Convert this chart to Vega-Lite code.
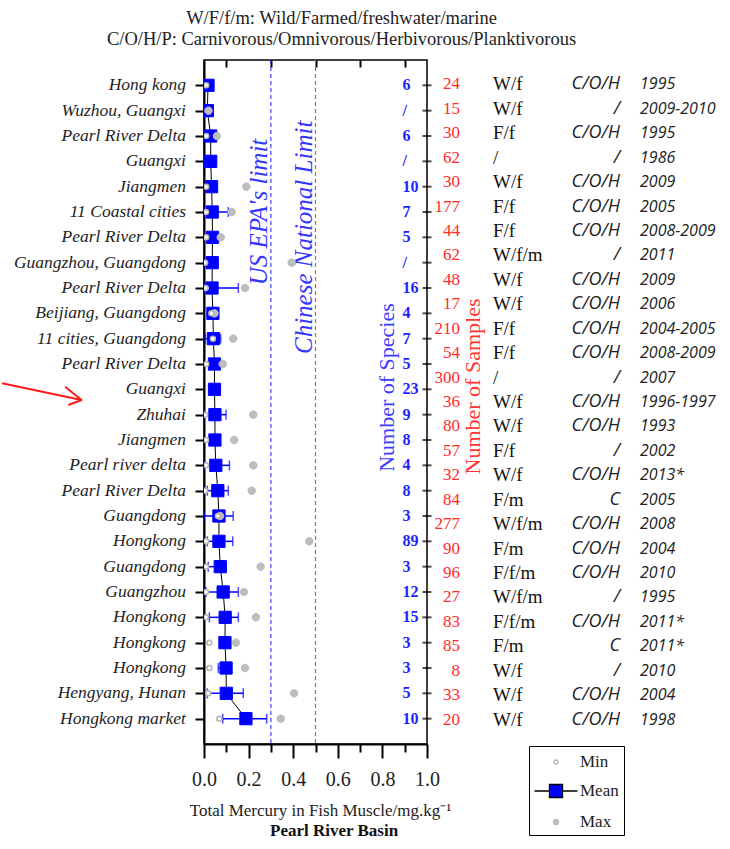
{
  "$schema": "https://vega.github.io/schema/vega-lite/v6.json",
  "padding": {"left": 0, "top": 7, "right": 0, "bottom": 0},
  "background": "white",
  "config": {"view": {"stroke": null}, "axis": {"grid": false}, "font": "Liberation Serif"},
  "spacing": 0,
  "bounds": "flush",
  "resolve": {"scale": {"x": "independent", "y": "independent"}},
  "datasets": {
    "plot": [
      {"id": 1, "location": "Hong kong", "Min": 0.01, "Mean": 0.018, "Max": null, "lo": null, "hi": null, "species": "6"},
      {"id": 2, "location": "Wuzhou, Guangxi", "Min": null, "Mean": 0.015, "Max": 0.02, "lo": null, "hi": null, "species": "/"},
      {"id": 3, "location": "Pearl River Delta", "Min": 0.01, "Mean": 0.03, "Max": 0.058, "lo": null, "hi": null, "species": "6"},
      {"id": 4, "location": "Guangxi", "Min": null, "Mean": 0.03, "Max": null, "lo": null, "hi": null, "species": "/"},
      {"id": 5, "location": "Jiangmen", "Min": 0.01, "Mean": 0.034, "Max": 0.19, "lo": null, "hi": null, "species": "10"},
      {"id": 6, "location": "11 Coastal cities", "Min": 0.009, "Mean": 0.037, "Max": 0.124, "lo": 0.0, "hi": 0.109, "species": "7"},
      {"id": 7, "location": "Pearl River Delta", "Min": 0.01, "Mean": 0.038, "Max": 0.075, "lo": null, "hi": null, "species": "5"},
      {"id": 8, "location": "Guangzhou, Guangdong", "Min": 0.005, "Mean": 0.037, "Max": 0.393, "lo": null, "hi": null, "species": "/"},
      {"id": 9, "location": "Pearl River Delta", "Min": 0.008, "Mean": 0.036, "Max": 0.184, "lo": 0.0, "hi": 0.154, "species": "16"},
      {"id": 10, "location": "Beijiang, Guangdong", "Min": 0.033, "Mean": 0.04, "Max": 0.047, "lo": null, "hi": null, "species": "4"},
      {"id": 11, "location": "11 cities, Guangdong", "Min": 0.04, "Mean": 0.042, "Max": 0.131, "lo": 0.005, "hi": 0.075, "species": "7"},
      {"id": 12, "location": "Pearl River Delta", "Min": 0.01, "Mean": 0.047, "Max": 0.084, "lo": null, "hi": null, "species": "5"},
      {"id": 13, "location": "Guangxi", "Min": null, "Mean": 0.047, "Max": null, "lo": null, "hi": null, "species": "23"},
      {"id": 14, "location": "Zhuhai", "Min": 0.005, "Mean": 0.049, "Max": 0.221, "lo": 0.0, "hi": 0.099, "species": "9"},
      {"id": 15, "location": "Jiangmen", "Min": 0.009, "Mean": 0.049, "Max": 0.135, "lo": null, "hi": null, "species": "8"},
      {"id": 16, "location": "Pearl river delta", "Min": 0.009, "Mean": 0.053, "Max": 0.221, "lo": 0.0, "hi": 0.114, "species": "4"},
      {"id": 17, "location": "Pearl River Delta", "Min": 0.005, "Mean": 0.062, "Max": 0.214, "lo": 0.015, "hi": 0.109, "species": "8"},
      {"id": 18, "location": "Guangdong", "Min": 0.062, "Mean": 0.067, "Max": 0.072, "lo": 0.0, "hi": 0.131, "species": "3"},
      {"id": 19, "location": "Hongkong", "Min": 0.009, "Mean": 0.067, "Max": 0.472, "lo": 0.015, "hi": 0.129, "species": "89"},
      {"id": 20, "location": "Guangdong", "Min": 0.009, "Mean": 0.073, "Max": 0.254, "lo": 0.019, "hi": 0.073, "species": "3"},
      {"id": 21, "location": "Guangzhou", "Min": 0.009, "Mean": 0.086, "Max": 0.179, "lo": 0.009, "hi": 0.154, "species": "12"},
      {"id": 22, "location": "Hongkong", "Min": 0.009, "Mean": 0.095, "Max": 0.233, "lo": 0.024, "hi": 0.154, "species": "15"},
      {"id": 23, "location": "Hongkong", "Min": 0.024, "Mean": 0.094, "Max": 0.143, "lo": null, "hi": null, "species": "3"},
      {"id": 24, "location": "Hongkong", "Min": 0.024, "Mean": 0.099, "Max": 0.184, "lo": 0.064, "hi": 0.099, "species": "3"},
      {"id": 25, "location": "Hengyang, Hunan", "Min": 0.019, "Mean": 0.1, "Max": 0.404, "lo": 0.015, "hi": 0.176, "species": "5"},
      {"id": 26, "location": "Hongkong market", "Min": 0.069, "Mean": 0.188, "Max": 0.344, "lo": 0.084, "hi": 0.281, "species": "10"}
    ],
    "table": [
      {"tid": 1, "samples": "24", "type": "W/f", "feeding": "C/O/H", "year": "1995"},
      {"tid": 2, "samples": "15", "type": "W/f", "feeding": "/", "year": "2009-2010"},
      {"tid": 3, "samples": "30", "type": "F/f", "feeding": "C/O/H", "year": "1995"},
      {"tid": 4, "samples": "62", "type": "/", "feeding": "/", "year": "1986"},
      {"tid": 5, "samples": "30", "type": "W/f", "feeding": "C/O/H", "year": "2009"},
      {"tid": 6, "samples": "177", "type": "F/f", "feeding": "C/O/H", "year": "2005"},
      {"tid": 7, "samples": "44", "type": "F/f", "feeding": "C/O/H", "year": "2008-2009"},
      {"tid": 8, "samples": "62", "type": "W/f/m", "feeding": "/", "year": "2011"},
      {"tid": 9, "samples": "48", "type": "W/f", "feeding": "C/O/H", "year": "2009"},
      {"tid": 10, "samples": "17", "type": "W/f", "feeding": "C/O/H", "year": "2006"},
      {"tid": 11, "samples": "210", "type": "F/f", "feeding": "C/O/H", "year": "2004-2005"},
      {"tid": 12, "samples": "54", "type": "F/f", "feeding": "C/O/H", "year": "2008-2009"},
      {"tid": 13, "samples": "300", "type": "/", "feeding": "/", "year": "2007"},
      {"tid": 14, "samples": "36", "type": "W/f", "feeding": "C/O/H", "year": "1996-1997"},
      {"tid": 15, "samples": "80", "type": "W/f", "feeding": "C/O/H", "year": "1993"},
      {"tid": 16, "samples": "57", "type": "F/f", "feeding": "/", "year": "2002"},
      {"tid": 17, "samples": "32", "type": "W/f", "feeding": "C/O/H", "year": "2013*"},
      {"tid": 18, "samples": "84", "type": "F/m", "feeding": "C", "year": "2005"},
      {"tid": 19, "samples": "277", "type": "W/f/m", "feeding": "C/O/H", "year": "2008"},
      {"tid": 20, "samples": "90", "type": "F/m", "feeding": "C/O/H", "year": "2004"},
      {"tid": 21, "samples": "96", "type": "F/f/m", "feeding": "C/O/H", "year": "2010"},
      {"tid": 22, "samples": "27", "type": "W/f/m", "feeding": "/", "year": "1995"},
      {"tid": 23, "samples": "83", "type": "F/f/m", "feeding": "C/O/H", "year": "2011*"},
      {"tid": 24, "samples": "85", "type": "F/m", "feeding": "C", "year": "2011*"},
      {"tid": 25, "samples": "8", "type": "W/f", "feeding": "/", "year": "2010"},
      {"tid": 26, "samples": "33", "type": "W/f", "feeding": "C/O/H", "year": "2004"},
      {"tid": 27, "samples": "20", "type": "W/f", "feeding": "C/O/H", "year": "1998"}
    ],
    "arrow": [
      {"seg": "shaft", "o": 1, "ax": 0.01, "ay": 12.76},
      {"seg": "shaft", "o": 2, "ax": 0.4, "ay": 13.42},
      {"seg": "head", "o": 1, "ax": 0.319, "ay": 12.9},
      {"seg": "head", "o": 2, "ax": 0.4, "ay": 13.42},
      {"seg": "head", "o": 3, "ax": 0.335, "ay": 13.62}
    ],
    "limits": [
      {"label": "US EPA's limit", "tx": 0.2475, "id": 6},
      {"label": "Chinese National Limit", "tx": 0.447, "id": 7}
    ]
  },
  "hconcat": [
    {
      "width": 204,
      "height": 684,
      "title": {"text": "Pearl River Basin", "orient": "bottom", "anchor": "start", "frame": "group", "dx": 270, "offset": 79, "font": "Liberation Serif", "fontSize": 17, "fontWeight": "bold", "color": "#111111"},
      "layer": [
        {
          "data": {"name": "plot"},
          "mark": {"type": "text", "align": "right", "baseline": "middle", "dx": -18, "font": "Liberation Serif", "fontSize": 17.5, "fontStyle": "italic", "color": "#1e1e1e"},
          "encoding": {
            "y": {"field": "id", "type": "ordinal", "scale": {"type": "point", "padding": 1}, "axis": null},
            "x": {"datum": 1, "type": "quantitative", "scale": {"domain": [0, 1]}, "axis": null},
            "text": {"field": "location"}
          }
        },
        {
          "data": {"name": "arrow"},
          "mark": {"type": "line", "color": "#ff1a1a", "strokeWidth": 2, "strokeJoin": "round", "strokeCap": "butt"},
          "encoding": {
            "x": {"field": "ax", "type": "quantitative", "scale": {"domain": [0, 1]}, "axis": null},
            "y": {"field": "ay", "type": "quantitative", "scale": {"domain": [0, 27], "reverse": true, "nice": false}, "axis": null},
            "detail": {"field": "seg"},
            "order": {"field": "o", "type": "quantitative"}
          }
        }
      ],
      "resolve": {"scale": {"y": "independent"}}
    },
    {
      "width": 223,
      "height": 684,
      "data": {"name": "plot"},
      "view": {"stroke": "black", "strokeWidth": 1.5},
      "layer": [
        {
          "data": {"values": [{}]},
          "mark": {"type": "rule", "color": "#1a1aff", "strokeWidth": 1, "strokeDash": [4, 3]},
          "encoding": {"x": {"datum": 0.3, "type": "quantitative", "axis": null}}
        },
        {
          "data": {"values": [{}]},
          "mark": {"type": "rule", "color": "#e85050", "strokeWidth": 1.2, "strokeDash": [4, 3]},
          "encoding": {"x": {"datum": 0.5, "type": "quantitative", "axis": null}}
        },
        {
          "data": {"name": "limits"},
          "mark": {"type": "text", "angle": 270, "align": "center", "baseline": "middle", "font": "Liberation Serif", "fontStyle": "italic", "fontSize": 25, "color": "#3434ff"},
          "encoding": {
            "x": {"field": "tx", "type": "quantitative", "axis": null},
            "y": {"field": "id", "type": "ordinal", "axis": null},
            "text": {"field": "label"}
          }
        },
        {
          "mark": {"type": "line", "color": "black", "strokeWidth": 1},
          "encoding": {
            "x": {"field": "Mean", "type": "quantitative", "scale": {"domain": [0, 1]},
              "axis": {"orient": "bottom", "values": [0, 0.2, 0.4, 0.6, 0.8, 1], "format": ".1f", "tickSize": 14, "tickWidth": 2, "tickColor": "black", "domainColor": "black", "domainWidth": 2, "labelFont": "Liberation Serif", "labelFontSize": 20, "labelColor": "#222222", "labelPadding": 11, "labelFlush": false, "title": "Total Mercury in Fish Muscle/mg.kg⁻¹", "titleFont": "Liberation Serif", "titleFontSize": 17, "titleFontWeight": "normal", "titleColor": "#222222", "titleX": 116, "titleY": 71, "titleBaseline": "alphabetic", "titleAlign": "center"}},
            "y": {"field": "id", "type": "ordinal", "scale": {"type": "point", "padding": 1},
              "axis": {"orient": "left", "labels": false, "tickSize": 9, "tickWidth": 2, "tickColor": "black", "domainColor": "black", "domainWidth": 2, "title": null}},
            "order": {"field": "id", "type": "quantitative"}
          }
        },
        {
          "transform": [{"filter": "datum.lo != null"}],
          "mark": {"type": "rule", "color": "#0000ff", "strokeWidth": 1.5, "clip": true},
          "encoding": {
            "x": {"field": "lo", "type": "quantitative",
              "axis": {"orient": "bottom", "values": [0.1, 0.3, 0.5, 0.7, 0.9], "tickSize": 8, "tickWidth": 2, "tickColor": "black", "labels": false, "domain": false, "title": null}},
            "x2": {"field": "hi"},
            "y": {"field": "id", "type": "ordinal", "axis": null}
          }
        },
        {
          "transform": [{"filter": "datum.lo != null"}],
          "mark": {"type": "tick", "color": "#0000ff", "thickness": 1.5, "size": 10, "clip": true},
          "encoding": {
            "x": {"field": "lo", "type": "quantitative", "axis": null},
            "y": {"field": "id", "type": "ordinal", "axis": null}
          }
        },
        {
          "transform": [{"filter": "datum.hi != null"}],
          "mark": {"type": "tick", "color": "#0000ff", "thickness": 1.5, "size": 10, "clip": true},
          "encoding": {
            "x": {"field": "hi", "type": "quantitative", "axis": null},
            "y": {"field": "id", "type": "ordinal", "axis": null}
          }
        },
        {
          "mark": {"type": "point", "shape": "square", "filled": true, "stroke": "#0000ff", "opacity": 1, "size": 150, "strokeWidth": 1, "clip": true},
          "encoding": {
            "x": {"field": "Mean", "type": "quantitative", "axis": null},
            "y": {"field": "id", "type": "ordinal", "axis": null},
            "fill": {"datum": "Mean", "scale": {"domain": ["Min", "Mean", "Max"], "range": ["#ffffff", "#0000ff", "#bdbdbd"]},
              "legend": {"title": null, "orient": "none", "legendX": 529, "legendY": 686, "strokeColor": "black", "fillColor": "white", "padding": 5, "rowPadding": 10, "symbolSize": 400, "symbolOffset": 11, "labelOffset": 13, "labelFont": "Liberation Serif", "labelFontSize": 17, "labelColor": "#222222", "symbolStrokeWidth": 1.3}}
          }
        },
        {
          "transform": [{"filter": "datum.Max != null"}],
          "mark": {"type": "point", "filled": true, "opacity": 1, "size": 832, "strokeWidth": 1, "clip": true},
          "encoding": {
            "x": {"field": "Max", "type": "quantitative", "axis": null},
            "y": {"field": "id", "type": "ordinal", "axis": null},
            "shape": {"datum": "Max", "scale": {"domain": ["Min", "Mean", "Max"], "range": ["M0.2,0A0.2,0.2,0,1,1,-0.2,0A0.2,0.2,0,1,1,0.2,0Z", "M-2.15,0H-0.65M0.65,0H2.15M-0.65,-0.65H0.65V0.65H-0.65Z", "M0.26,0A0.26,0.26,0,1,1,-0.26,0A0.26,0.26,0,1,1,0.26,0Z"]},
              "legend": {"title": null, "orient": "none", "legendX": 529, "legendY": 686, "strokeColor": "black", "fillColor": "white", "padding": 5, "rowPadding": 10, "symbolSize": 400, "symbolOffset": 11, "labelOffset": 13, "labelFont": "Liberation Serif", "labelFontSize": 17, "labelColor": "#222222", "symbolStrokeWidth": 1.3}},
            "fill": {"datum": "Max"},
            "stroke": {"datum": "Max", "scale": {"domain": ["Min", "Mean", "Max"], "range": ["#b4b4b4", "#000000", "#bdbdbd"]},
              "legend": {"title": null, "orient": "none", "legendX": 529, "legendY": 686, "strokeColor": "black", "fillColor": "white", "padding": 5, "rowPadding": 10, "symbolSize": 400, "symbolOffset": 11, "labelOffset": 13, "labelFont": "Liberation Serif", "labelFontSize": 17, "labelColor": "#222222", "symbolStrokeWidth": 1.3}}
          }
        },
        {
          "transform": [{"filter": "datum.Min != null"}],
          "mark": {"type": "point", "filled": true, "opacity": 1, "size": 625, "strokeWidth": 1.5, "clip": true},
          "encoding": {
            "x": {"field": "Min", "type": "quantitative", "axis": null},
            "y": {"field": "id", "type": "ordinal", "axis": null},
            "shape": {"datum": "Min"},
            "fill": {"datum": "Min"},
            "stroke": {"datum": "Min"}
          }
        },
        {
          "mark": {"type": "text", "align": "left", "baseline": "middle", "font": "Liberation Serif", "fontWeight": "bold", "fontSize": 16, "color": "#1f1fff"},
          "encoding": {
            "x": {"datum": 0.89, "type": "quantitative", "axis": null},
            "y": {"field": "id", "type": "ordinal", "axis": null},
            "text": {"field": "species"}
          }
        },
        {
          "mark": {"type": "tick", "orient": "horizontal", "size": 9, "thickness": 2, "color": "black"},
          "encoding": {
            "x": {"datum": 1, "type": "quantitative",
              "axis": {"orient": "top", "values": [0.1, 0.3, 0.5, 0.7, 0.9], "tickSize": -7, "tickWidth": 2, "tickColor": "black", "labels": false, "domain": false,
                "title": ["W/F/f/m: Wild/Farmed/freshwater/marine", "C/O/H/P: Carnivorous/Omnivorous/Herbivorous/Planktivorous"],
                "titleFont": "Liberation Serif", "titleFontSize": 18.5, "titleFontWeight": "normal", "titleColor": "#222222", "titleX": 137, "titleY": -36.5, "titleBaseline": "alphabetic", "titleAlign": "center", "titleLineHeight": 21}},
            "y": {"field": "id", "type": "ordinal",
              "axis": {"orient": "right", "labels": false, "ticks": false, "domain": false, "title": "Number of Species", "titleFont": "Liberation Serif", "titleFontSize": 22, "titleFontWeight": "normal", "titleColor": "#3b3bff", "titleAngle": 270, "titleX": -40.3, "titleY": 327, "titleBaseline": "middle", "titleAlign": "center"}}
          }
        }
      ],
      "resolve": {"axis": {"x": "independent", "y": "independent"}}
    },
    {
      "width": 33,
      "height": 684,
      "data": {"name": "table"},
      "mark": {"type": "text", "align": "right", "baseline": "middle", "font": "Liberation Serif", "fontSize": 17, "color": "#ff2a2a"},
      "encoding": {
        "y": {"field": "tid", "type": "ordinal", "scale": {"type": "point", "padding": 1},
          "axis": {"orient": "right", "labels": false, "ticks": false, "domain": false, "title": "Number of Samples", "titleFont": "Liberation Serif", "titleFontSize": 22, "titleFontWeight": "normal", "titleColor": "#ff3333", "titleAngle": 270, "titleX": 12, "titleY": 326, "titleBaseline": "middle", "titleAlign": "center"}},
        "x": {"datum": 1, "type": "quantitative", "scale": {"domain": [0, 1]}, "axis": null},
        "text": {"field": "samples"}
      }
    },
    {
      "width": 160,
      "height": 684,
      "data": {"name": "table"},
      "layer": [
        {
          "mark": {"type": "text", "align": "left", "baseline": "middle", "dx": 33, "font": "Liberation Serif", "fontSize": 19, "color": "#111111"},
          "encoding": {
            "y": {"field": "tid", "type": "ordinal", "scale": {"type": "point", "padding": 1}, "axis": null},
            "x": {"datum": 0, "type": "quantitative", "scale": {"domain": [0, 1]}, "axis": null},
            "text": {"field": "type"}
          }
        },
        {
          "mark": {"type": "text", "align": "right", "baseline": "middle", "font": "Open Sans", "fontStyle": "italic", "fontSize": 18, "color": "#222222"},
          "encoding": {
            "y": {"field": "tid", "type": "ordinal", "axis": null},
            "x": {"datum": 1, "type": "quantitative", "axis": null},
            "text": {"field": "feeding"}
          }
        }
      ]
    },
    {
      "width": 110,
      "height": 684,
      "data": {"name": "table"},
      "mark": {"type": "text", "align": "left", "baseline": "middle", "dx": 20, "font": "Open Sans", "fontStyle": "italic", "fontSize": 16, "color": "#222222"},
      "encoding": {
        "y": {"field": "tid", "type": "ordinal", "scale": {"type": "point", "padding": 1}, "axis": null},
        "x": {"datum": 0, "type": "quantitative", "scale": {"domain": [0, 1]}, "axis": null},
        "text": {"field": "year"}
      }
    }
  ]
}
